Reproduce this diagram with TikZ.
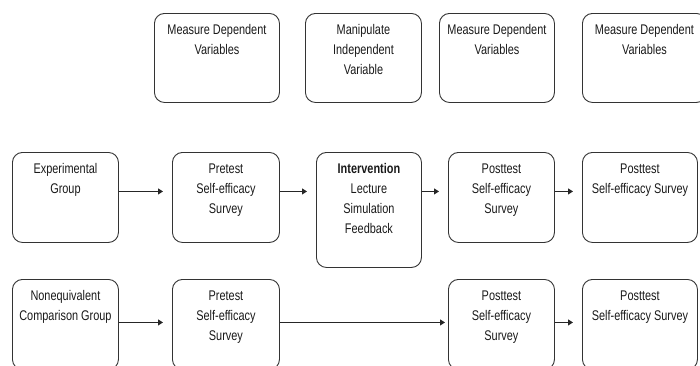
\documentclass[tikz,border=0pt]{standalone}
\usepackage{fontspec}
\setmainfont{Liberation Sans}[FakeStretch=0.78]
\usetikzlibrary{arrows.meta}
\newcommand{\bxt}[3]{\parbox[t][#2][t]{#1}{\centering\rule{0pt}{21pt}#3}}
\begin{document}
\begin{tikzpicture}[x=1pt,y=-1pt,
  box/.style={draw=black!80, line width=0.9pt, rounded corners=10pt, inner sep=0pt,
    anchor=north west, text=black!90, font=\fontsize{14}{20}\selectfont},
  arr/.style={draw=black!85, line width=0.9pt, -{Triangle[length=5pt,width=6pt]}, shorten >=9pt}]
\useasboundingbox (0,0) rectangle (700,365);
\clip (0,0) rectangle (700,365);
% top row
\node[box] (md1) at (154,13) {\bxt{125pt}{89pt}{Measure Dependent\\Variables}};
\node[box] (miv) at (305,13) {\bxt{116pt}{89pt}{Manipulate\\Independent\\Variable}};
\node[box] (md2) at (439,13) {\bxt{115pt}{89pt}{Measure Dependent\\Variables}};
\node[box] (md3) at (582,13) {\bxt{124pt}{89pt}{Measure Dependent\\Variables}};
% experimental row
\node[box] (exp) at (12,152) {\bxt{106pt}{90pt}{Experimental\\Group}};
\node[box] (pre) at (172,152) {\bxt{107pt}{90pt}{Pretest\\Self-efficacy\\Survey}};
\node[box] (int) at (316,152) {\bxt{105pt}{115pt}{\textbf{Intervention}\\Lecture\\Simulation\\Feedback}};
\node[box] (post) at (448,152) {\bxt{106pt}{90pt}{Posttest\\Self-efficacy\\Survey}};
\node[box] (postb) at (582,152) {\bxt{115pt}{90pt}{Posttest\\Self-efficacy Survey}};
% comparison row
\node[box] (ncg) at (12,279) {\bxt{106pt}{90pt}{Nonequivalent\\Comparison Group}};
\node[box] (cpre) at (172,279) {\bxt{107pt}{90pt}{Pretest\\Self-efficacy\\Survey}};
\node[box] (cpost) at (448,279) {\bxt{106pt}{90pt}{Posttest\\Self-efficacy\\Survey}};
\node[box] (cpostb) at (582,279) {\bxt{115pt}{90pt}{Posttest\\Self-efficacy Survey}};
% arrows
\draw[arr] ([yshift=6pt]exp.east) -- ([yshift=6pt]pre.west);
\draw[arr] ([yshift=6pt]pre.east) -- ([yshift=6pt]pre.east -| int.west);
\draw[arr] ([yshift=6pt]post.east -| int.east) -- ([yshift=6pt]post.west);
\draw[arr] ([yshift=6pt]post.east) -- ([yshift=6pt]postb.west);
\draw[arr] ([yshift=2pt]ncg.east) -- ([yshift=2pt]cpre.west);
\draw[arr, shorten >=3pt] ([yshift=2pt]cpre.east) -- ([yshift=2pt]cpost.west);
\draw[arr] ([yshift=2pt]cpost.east) -- ([yshift=2pt]cpostb.west);
\end{tikzpicture}
\end{document}
